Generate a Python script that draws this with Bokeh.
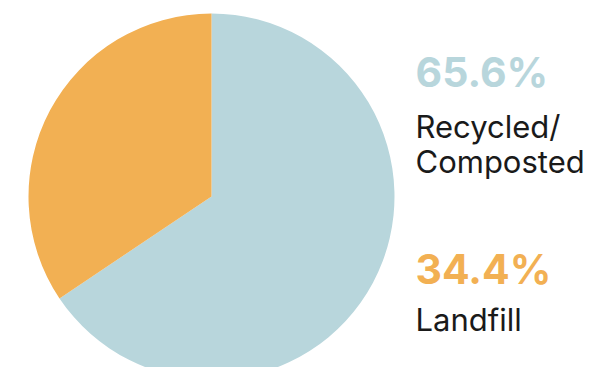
import math
from bokeh.plotting import figure
from bokeh.models import Range1d, ColumnDataSource
from bokeh.core.properties import value
from bokeh.embed import file_html
from bokeh.resources import INLINE

categories = ["Recycled/Composted", "Landfill"]
shares = [65.6, 34.4]
colors = ["#B8D6DC", "#F2B053"]
pct_labels = ["65.6%", "34.4%"]
name_lines = [["Recycled/", "Composted"], ["Landfill"]]

W, H = 595, 367
p = figure(width=W, height=H, output_backend="svg", toolbar_location=None,
           x_range=Range1d(0, W), y_range=Range1d(0, H), min_border=0)
p.axis.visible = False
p.grid.visible = False
p.outline_line_color = None
p.background_fill_color = "white"
p.border_fill_color = "white"

# wedges: start at 12 o'clock, going clockwise
total = sum(shares)
starts, ends = [], []
cur = math.pi / 2
for s in shares:
    a = 2 * math.pi * s / total
    ends.append(cur)
    starts.append(cur - a)
    cur -= a
src = ColumnDataSource(dict(start=starts, end=ends, color=colors, cat=categories))
cx, cy, r = 211, H - 196, 183
p.wedge(x=cx, y=cy, radius=r, start_angle="start", end_angle="end",
        fill_color="color", line_color=None, source=src)

font = value("Inter")
# labels
pct_y = [H - 71, H - 268]
name_y = [[H - 126, H - 161], [H - 319]]
for i in range(len(categories)):
    p.text(x=[415], y=[pct_y[i]], text=[pct_labels[i]], text_font=font,
           text_font_size="41px", text_font_style="bold", text_color=colors[i],
           text_baseline="alphabetic", text_align="left")
    for j, line in enumerate(name_lines[i]):
        p.text(x=[415], y=[name_y[i][j]], text=[line], text_font=font,
               text_font_size="31px", text_color="#1a1a1a",
               text_baseline="alphabetic", text_align="left")

open("out.html", "w").write(file_html(p, INLINE))
